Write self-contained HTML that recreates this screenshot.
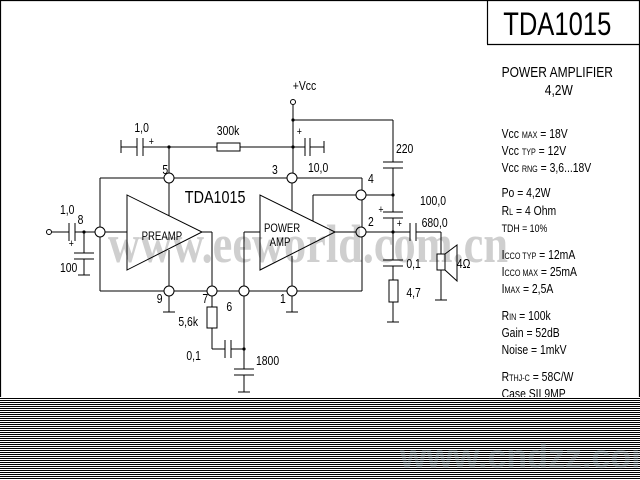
<!DOCTYPE html>
<html><head><meta charset="utf-8"><style>
html,body{margin:0;padding:0;background:#fff;}
svg{display:block;}
text{font-family:"Liberation Sans",sans-serif;fill:#000;}
.t{font-size:13px;}
</style></head><body>
<svg width="640" height="480" viewBox="0 0 640 480" xmlns="http://www.w3.org/2000/svg">
<defs>
<pattern id="h" width="4" height="2" patternUnits="userSpaceOnUse"><rect x="0" y="0" width="4" height="1" fill="#000"/></pattern>
</defs>
<rect width="640" height="480" fill="#fff"/>
<text x="108" y="262" font-family="Liberation Serif,serif" font-weight="bold" font-size="54" fill="#cfcfcf" style="fill:#cfcfcf;font-family:'Liberation Serif',serif" textLength="400" lengthAdjust="spacingAndGlyphs">www.eeworld.com.cn</text>
<g stroke="#000" stroke-width="1.2" fill="none">
<line x1="0.5" y1="0" x2="0.5" y2="400"/>
<line x1="639.5" y1="0" x2="639.5" y2="400"/>
<line x1="0" y1="0.5" x2="640" y2="0.5"/>
<line x1="487.5" y1="0" x2="487.5" y2="44"/>
<line x1="487" y1="44.5" x2="640" y2="44.5"/>
</g>
<g stroke="#000" stroke-width="1" fill="none">
<circle cx="293" cy="102" r="2.5"/>
<line x1="293" y1="105" x2="293" y2="173"/>
<line x1="293" y1="120" x2="393" y2="120"/>
<line x1="393" y1="120" x2="393" y2="162"/>
<line x1="383" y1="162" x2="403" y2="162"/>
<line x1="383" y1="168" x2="403" y2="168"/>
<line x1="393" y1="168" x2="393" y2="212"/>
<line x1="121" y1="140" x2="121" y2="153"/>
<line x1="121" y1="147" x2="137" y2="147"/>
<line x1="137" y1="138" x2="137" y2="156"/>
<line x1="143" y1="138" x2="143" y2="156"/>
<line x1="143" y1="147" x2="217" y2="147"/>
<rect x="217" y="143" width="23" height="8"/>
<line x1="240" y1="147" x2="305" y2="147"/>
<line x1="305" y1="138" x2="305" y2="156"/>
<line x1="310" y1="138" x2="310" y2="156"/>
<line x1="310" y1="147" x2="324" y2="147"/>
<line x1="324" y1="141" x2="324" y2="153"/>
<line x1="169" y1="147" x2="169" y2="173"/>
<line x1="100" y1="178" x2="164" y2="178"/>
<line x1="174" y1="178" x2="287" y2="178"/>
<line x1="297" y1="178" x2="362" y2="178"/>
<line x1="362" y1="178" x2="362" y2="190"/>
<line x1="362" y1="200" x2="362" y2="227"/>
<line x1="362" y1="237" x2="362" y2="291"/>
<line x1="100" y1="178" x2="100" y2="227"/>
<line x1="100" y1="237" x2="100" y2="291"/>
<line x1="100" y1="291" x2="164" y2="291"/>
<line x1="174" y1="291" x2="207" y2="291"/>
<line x1="217" y1="291" x2="239" y2="291"/>
<line x1="249" y1="291" x2="287" y2="291"/>
<line x1="297" y1="291" x2="362" y2="291"/>
<circle cx="169" cy="178" r="5"/>
<circle cx="292" cy="178" r="5"/>
<circle cx="361" cy="195" r="5"/>
<circle cx="361" cy="232" r="5"/>
<circle cx="100" cy="232" r="5"/>
<circle cx="169" cy="291" r="5"/>
<circle cx="212" cy="291" r="5"/>
<circle cx="244" cy="291" r="5"/>
<circle cx="292" cy="291" r="5"/>
<polygon points="127,195 127,270 202,232"/>
<line x1="105" y1="232" x2="127" y2="232"/>
<line x1="169" y1="183" x2="169" y2="216"/>
<line x1="169" y1="250" x2="169" y2="286"/>
<line x1="202" y1="232" x2="212" y2="232"/>
<line x1="212" y1="232" x2="212" y2="286"/>
<polygon points="260,195 260,270 335,232"/>
<line x1="244" y1="232" x2="260" y2="232"/>
<line x1="244" y1="232" x2="244" y2="286"/>
<line x1="292" y1="183" x2="292" y2="211"/>
<line x1="292" y1="256" x2="292" y2="286"/>
<line x1="335" y1="232" x2="356" y2="232"/>
<line x1="313" y1="195" x2="313" y2="221"/>
<line x1="313" y1="195" x2="356" y2="195"/>
<line x1="366" y1="195" x2="393" y2="195"/>
<line x1="383" y1="212" x2="403" y2="212"/>
<line x1="383" y1="218" x2="403" y2="218"/>
<line x1="393" y1="218" x2="393" y2="260"/>
<line x1="366" y1="232" x2="410" y2="232"/>
<line x1="410" y1="223" x2="410" y2="241"/>
<line x1="416" y1="223" x2="416" y2="241"/>
<line x1="416" y1="232" x2="441" y2="232"/>
<line x1="441" y1="232" x2="441" y2="254"/>
<rect x="437" y="254" width="8" height="16"/>
<line x1="441" y1="270" x2="441" y2="300"/>
<line x1="435" y1="300" x2="447" y2="300"/>
<polygon points="445,254 457,245 457,281 445,270"/>
<line x1="383" y1="260" x2="403" y2="260"/>
<line x1="383" y1="266" x2="403" y2="266"/>
<line x1="393" y1="266" x2="393" y2="280"/>
<rect x="389" y="280" width="9" height="22"/>
<line x1="393" y1="302" x2="393" y2="322"/>
<line x1="387" y1="322" x2="399" y2="322"/>
<circle cx="49" cy="232" r="2.5"/>
<line x1="52" y1="232" x2="69" y2="232"/>
<line x1="69" y1="223" x2="69" y2="241"/>
<line x1="75" y1="223" x2="75" y2="241"/>
<line x1="75" y1="232" x2="95" y2="232"/>
<line x1="84" y1="232" x2="84" y2="253"/>
<line x1="74" y1="253" x2="94" y2="253"/>
<line x1="74" y1="259" x2="94" y2="259"/>
<line x1="84" y1="259" x2="84" y2="275"/>
<line x1="78" y1="275" x2="90" y2="275"/>
<line x1="169" y1="296" x2="169" y2="312"/>
<line x1="163" y1="312" x2="175" y2="312"/>
<line x1="292" y1="296" x2="292" y2="312"/>
<line x1="286" y1="312" x2="298" y2="312"/>
<line x1="212" y1="296" x2="212" y2="307"/>
<rect x="207" y="307" width="10" height="21"/>
<line x1="212" y1="328" x2="212" y2="349"/>
<line x1="212" y1="349" x2="225" y2="349"/>
<line x1="225" y1="340" x2="225" y2="358"/>
<line x1="231" y1="340" x2="231" y2="358"/>
<line x1="231" y1="349" x2="244" y2="349"/>
<line x1="244" y1="296" x2="244" y2="369"/>
<line x1="234" y1="369" x2="254" y2="369"/>
<line x1="234" y1="375" x2="254" y2="375"/>
<line x1="244" y1="375" x2="244" y2="392"/>
<line x1="238" y1="392" x2="250" y2="392"/>
</g>
<g fill="#000">
<circle cx="293" cy="120" r="1.6"/><circle cx="169" cy="147" r="1.6"/><circle cx="293" cy="147" r="1.6"/>
<circle cx="393" cy="195" r="1.6"/><circle cx="393" cy="232" r="1.6"/><circle cx="84" cy="232" r="1.6"/>
<circle cx="244" cy="349" r="1.6"/>
</g>
<g class="t" transform="scale(0.8,1)">
<text x="366" y="90">+Vcc</text>
<text x="168" y="132">1,0</text>
<text x="271" y="135">300k</text>
<text x="186" y="145" font-size="11">+</text>
<text x="371" y="135" font-size="11">+</text>
<text x="385" y="172">10,0</text>
<text x="495" y="153">220</text>
<text x="203" y="174">5</text>
<text x="340" y="174">3</text>
<text x="460" y="183">4</text>
<text x="460" y="226">2</text>
<text x="97" y="224">8</text>
<text x="75" y="214">1,0</text>
<text x="86" y="247" font-size="11">+</text>
<text x="75" y="272">100</text>
<text x="196" y="303">9</text>
<text x="253" y="303">7</text>
<text x="283" y="311">6</text>
<text x="350" y="303">1</text>
<text x="223" y="326">5,6k</text>
<text x="233" y="360">0,1</text>
<text x="320" y="365">1800</text>
<text x="525" y="205">100,0</text>
<text x="473" y="213" font-size="11">+</text>
<text x="496" y="227" font-size="11">+</text>
<text x="527" y="227">680,0</text>
<text x="508" y="268">0,1</text>
<text x="508" y="297">4,7</text>
<text x="571" y="268">4Ω</text>
<text x="177" y="240" font-size="12">PREAMP</text>
<text x="330" y="232" font-size="12">POWER</text>
<text x="337" y="246" font-size="12">AMP</text>
<text x="231" y="203" font-size="18">TDA1015</text>
</g>
<g transform="scale(0.8,1)">
<text x="629" y="35" font-size="32">TDA1015</text>
<text x="627" y="77" font-size="15">POWER  AMPLIFIER</text>
<text x="681" y="95" font-size="15">4,2W</text>
<g font-size="13">
<text x="627" y="138">Vcc <tspan font-size="9">MAX</tspan> = 18V</text>
<text x="627" y="155">Vcc <tspan font-size="9">TYP</tspan>  = 12V</text>
<text x="627" y="172">Vcc <tspan font-size="9">RNG</tspan> = 3,6...18V</text>
<text x="627" y="197">Po  =  4,2W</text>
<text x="627" y="215">R<tspan font-size="9">L</tspan>  =  4 Ohm</text>
<text x="627" y="232" font-size="11">TDH = 10%</text>
<text x="627" y="259">I<tspan font-size="9">CCO TYP</tspan> = 12mA</text>
<text x="627" y="276">I<tspan font-size="9">CCO MAX</tspan> = 25mA</text>
<text x="627" y="293">I<tspan font-size="9">MAX</tspan>  =     2,5A</text>
<text x="627" y="320">R<tspan font-size="9">IN</tspan>   =  100k</text>
<text x="627" y="337">Gain  =  52dB</text>
<text x="627" y="354">Noise = 1mkV</text>
<text x="627" y="381">R<tspan font-size="9">THJ-C</tspan> = 58C/W</text>
<text x="627" y="398">Case  SIL9MP</text>
</g>
</g>
<rect x="0" y="397" width="640" height="83" fill="#fff"/>
<rect x="0" y="397" width="640" height="83" fill="url(#h)"/>
<text x="400" y="468" font-size="34" font-weight="bold" style="fill:#9fb4bb;opacity:0.35">www.cndzz.com</text>
</svg>
</body></html>
